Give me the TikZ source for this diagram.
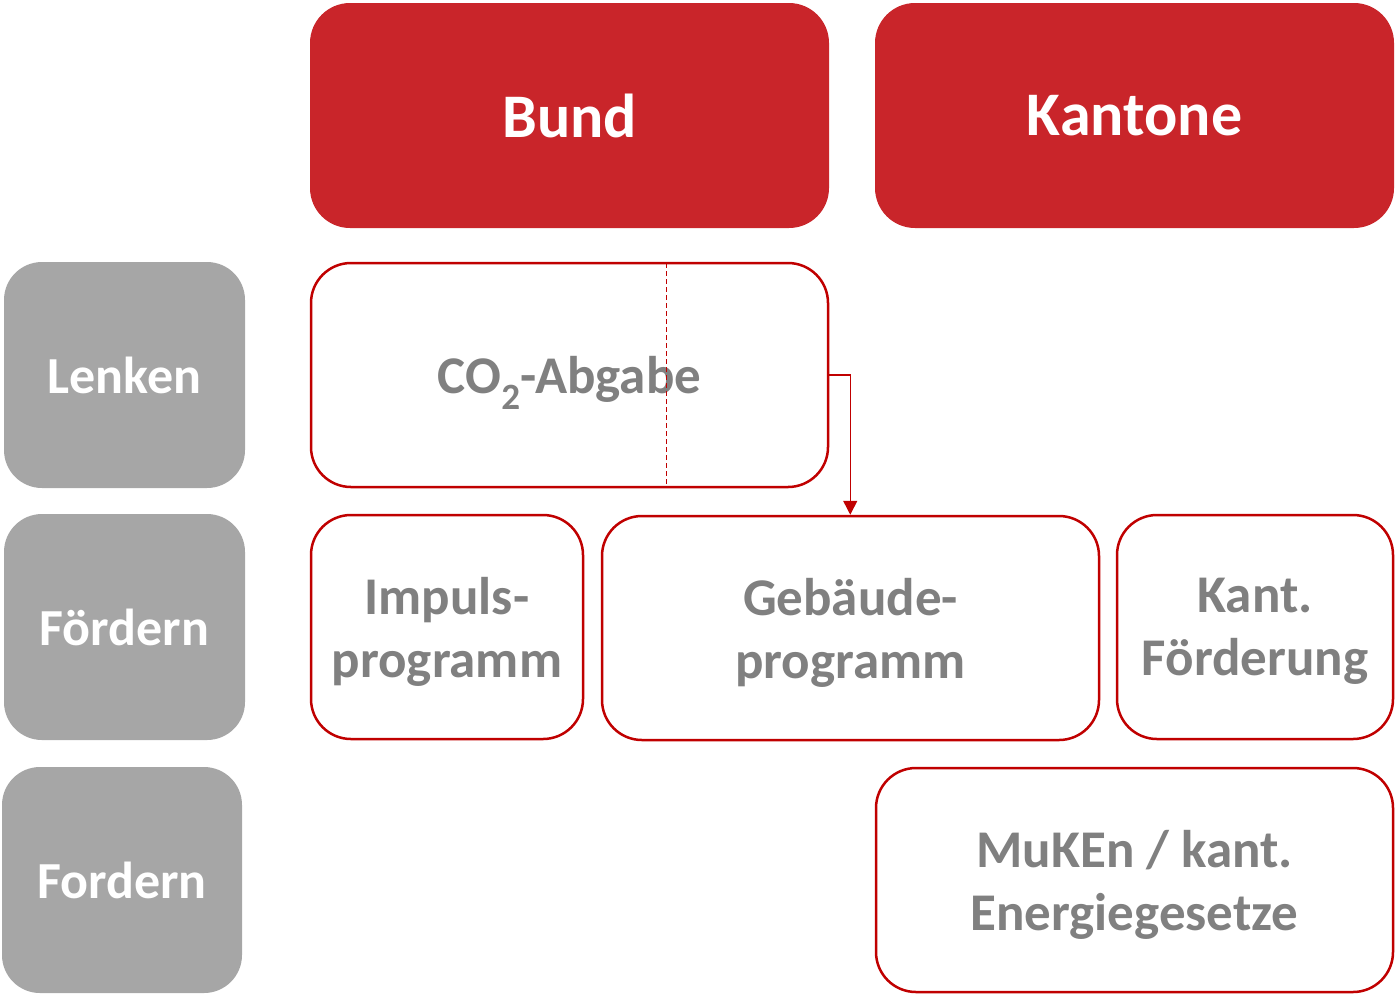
\documentclass[tikz,border=0pt]{standalone}
\usepackage{fontspec}
\setmainfont{Carlito}
\usetikzlibrary{arrows.meta}
\definecolor{hdred}{RGB}{201,37,42}
\definecolor{bdred}{RGB}{192,0,0}
\definecolor{boxgray}{RGB}{166,166,166}
\definecolor{txtgray}{RGB}{128,128,128}
\tikzset{
  header/.style={fill=hdred, rounded corners=40pt, inner sep=0pt, text=white,
    font=\fontsize{62}{74}\selectfont\bfseries},
  rowlabel/.style={fill=boxgray, rounded corners=38pt, inner sep=0pt, text=white,
    font=\fontsize{52}{62}\selectfont\bfseries},
  instr/.style={draw=bdred, line width=2.5pt, fill=white, rounded corners=40pt, inner sep=0pt,
    text=txtgray, align=center, text depth=0pt, font=\fontsize{53}{63}\selectfont\bfseries},
  flow/.style={draw=bdred, line width=1.5pt, -{Triangle[width=14pt,length=14pt]}},
  divider/.style={draw=bdred, line width=1pt, dash pattern=on 5pt off 3pt}
}
\begin{document}
\begin{tikzpicture}[x=1pt,y=-1pt]
\useasboundingbox (0,0) rectangle (1396,994);
% headers
\node[header, minimum width=519pt, minimum height=225pt] (bund) at (569.5,115.5) {Bund};
\node[header, minimum width=519pt, minimum height=225pt] (kant) at (1134.5,115.5) {Kantone};
% row labels
\node[rowlabel, minimum width=241pt, minimum height=226pt] (lenken) at (124.5,375) {Lenken};
\node[rowlabel, minimum width=241pt, minimum height=226pt] (foerdern) at (124.5,627) {Fördern};
\node[rowlabel, minimum width=240pt, minimum height=226pt] (fordern) at (122,880) {Fordern};
% instruments
\node[instr, minimum width=517pt, minimum height=224pt] (co2) at (569.5,375) {CO\textsubscript{2}-Abgabe};
\node[instr, minimum width=272pt, minimum height=224pt] (impuls) at (447,627) {Impuls-\\programm};
\node[instr, minimum width=497pt, minimum height=224pt] (geb) at (850.5,628) {Gebäude-\\programm};
\node[instr, minimum width=276pt, minimum height=224pt] (kfoe) at (1255,627) {Kant.\\Förderung};
\node[instr, minimum width=517pt, minimum height=224pt] (muken) at (1134.5,880) {MuKEn / kant.\\Energiegesetze};
% dashed divider inside CO2 box
\draw[divider] (co2.north) ++(96.5,1.25) coordinate (dtop) -- (dtop |- co2.south);
% arrow
\coordinate (bend) at ([xshift=21pt]co2.east);
\draw[flow] (co2.east) -- (bend) -- (bend |- geb.north);
\end{tikzpicture}
\end{document}
